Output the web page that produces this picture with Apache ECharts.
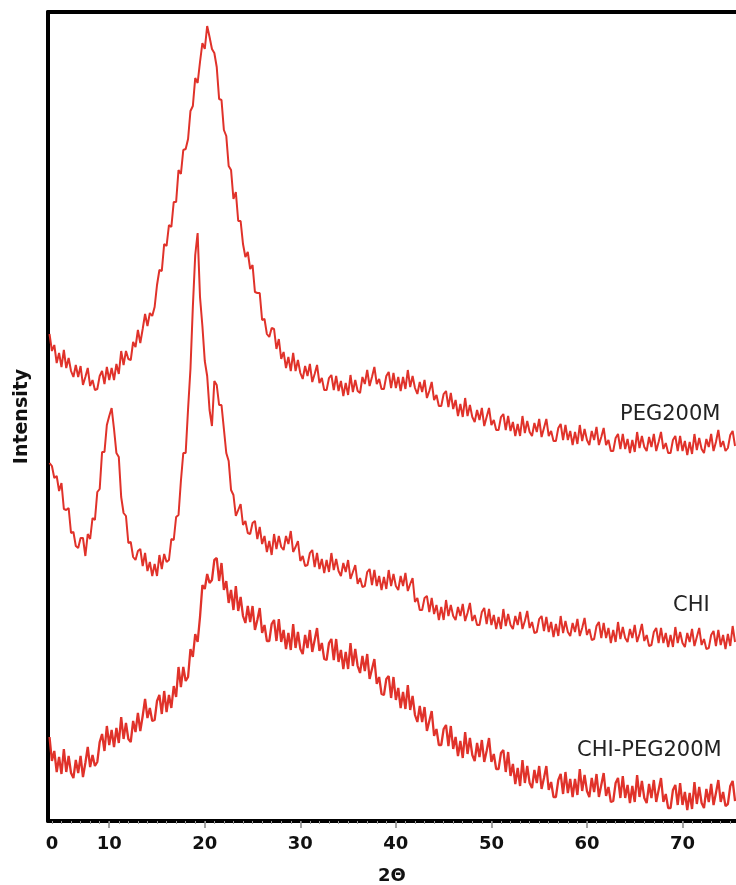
<!DOCTYPE html>
<html>
<head>
<meta charset="utf-8">
<title>XRD</title>
<script src="https://cdn.jsdelivr.net/npm/echarts@6/dist/echarts.min.js"></script>
<style>
  html, body { margin: 0; padding: 0; background: #fff; }
  #xrd { width: 736px; height: 885px; }
</style>
</head>
<body>
<div id="xrd"></div>
<script>
// scan grid: 2θ from 3.75 in 0.25° steps
const START = 3.75
const STEP = 0.25

// intensities (a.u.), already offset so the three patterns stack
const peg200m = [
  487, 470, 476, 458, 468, 454, 471, 453, 463, 450, 444, 456, 444, 455, 436, 444,
  453, 435, 441, 431, 432, 445, 450, 437, 454, 441, 453, 441, 457, 447, 470, 456,
  470, 462, 461, 479, 474, 491, 478, 492, 507, 495, 508, 505, 514, 536, 551, 550,
  577, 575, 596, 594, 619, 619, 651, 647, 671, 672, 682, 710, 715, 743, 738, 759,
  778, 772, 795, 784, 772, 768, 754, 722, 721, 691, 685, 655, 651, 622, 629, 600,
  600, 577, 564, 569, 552, 556, 529, 528, 528, 501, 502, 487, 484, 493, 492, 472,
  482, 462, 469, 453, 464, 450, 468, 450, 461, 448, 442, 455, 445, 457, 439, 447,
  456, 438, 443, 431, 431, 443, 446, 431, 445, 430, 440, 425, 438, 426, 446, 429,
  441, 430, 428, 444, 437, 451, 435, 444, 454, 437, 442, 432, 432, 445, 449, 433,
  448, 433, 444, 430, 444, 432, 451, 434, 445, 433, 427, 439, 429, 441, 423, 430,
  439, 421, 426, 415, 415, 427, 430, 414, 428, 412, 421, 405, 417, 404, 423, 405,
  416, 404, 399, 411, 401, 413, 395, 404, 413, 396, 401, 391, 391, 404, 407, 391,
  405, 390, 399, 385, 397, 385, 405, 388, 400, 389, 385, 398, 389, 402, 384, 393,
  402, 385, 390, 380, 380, 393, 397, 381, 396, 381, 390, 376, 389, 377, 396, 380,
  392, 381, 376, 390, 381, 394, 376, 384, 393, 376, 381, 370, 370, 383, 387, 372,
  387, 372, 382, 368, 381, 369, 389, 373, 385, 374, 370, 384, 374, 387, 370, 379,
  389, 372, 378, 368, 368, 381, 385, 370, 385, 370, 380, 366, 379, 367, 387, 371,
  383, 372, 368, 382, 374, 387, 370, 379, 391, 374, 380, 370, 373, 386, 390, 375
]

const chi = [
  358, 355, 343, 345, 330, 338, 312, 311, 313, 288, 289, 275, 273, 283, 283, 265,
  287, 282, 303, 301, 329, 332, 369, 369, 396, 405, 413, 392, 368, 364, 324, 308,
  305, 278, 279, 264, 261, 270, 272, 255, 268, 250, 259, 245, 257, 245, 266, 252,
  267, 259, 261, 282, 281, 304, 306, 340, 368, 368, 412, 452, 514, 566, 588, 524,
  495, 460, 445, 411, 395, 440, 436, 416, 416, 392, 368, 360, 331, 326, 305, 311,
  317, 296, 300, 288, 287, 298, 300, 282, 294, 277, 285, 269, 280, 266, 287, 272,
  285, 274, 271, 285, 277, 290, 269, 274, 280, 260, 265, 255, 256, 268, 271, 254,
  268, 252, 262, 248, 261, 249, 268, 251, 262, 250, 245, 258, 249, 261, 242, 249,
  256, 237, 243, 234, 235, 249, 252, 236, 251, 235, 245, 231, 244, 232, 251, 235,
  247, 235, 231, 245, 235, 248, 230, 237, 243, 219, 223, 211, 211, 223, 225, 209,
  223, 207, 216, 201, 214, 201, 221, 205, 216, 205, 201, 214, 205, 217, 200, 208,
  218, 200, 206, 196, 196, 209, 213, 197, 212, 196, 206, 192, 204, 192, 212, 195,
  207, 196, 192, 205, 196, 209, 192, 200, 210, 193, 199, 188, 189, 202, 205, 190,
  204, 189, 199, 184, 197, 185, 205, 188, 200, 189, 185, 198, 189, 202, 185, 193,
  203, 186, 192, 181, 182, 195, 199, 183, 198, 183, 193, 178, 191, 179, 199, 182,
  194, 183, 179, 192, 183, 196, 179, 187, 197, 180, 186, 175, 176, 189, 193, 178,
  193, 178, 188, 174, 186, 174, 194, 178, 189, 178, 174, 188, 179, 192, 175, 184,
  193, 176, 182, 172, 173, 186, 190, 175, 191, 176, 186, 172, 187, 175, 195, 179
]

const chiPeg200m = [
  84, 60, 70, 49, 64, 47, 72, 49, 65, 48, 43, 61, 48, 65, 44, 58,
  74, 54, 66, 55, 59, 79, 87, 70, 95, 76, 91, 74, 93, 78, 104, 82,
  98, 82, 79, 100, 89, 108, 90, 105, 122, 103, 113, 100, 101, 120, 126, 107,
  130, 109, 126, 113, 135, 124, 154, 134, 154, 140, 144, 172, 164, 187, 179, 204,
  236, 232, 247, 238, 241, 261, 263, 240, 258, 231, 240, 218, 231, 211, 235, 210,
  224, 205, 198, 215, 199, 215, 191, 201, 213, 188, 196, 180, 180, 197, 201, 180,
  202, 179, 191, 172, 188, 171, 197, 173, 189, 172, 167, 186, 173, 191, 169, 181,
  193, 170, 178, 162, 161, 178, 182, 161, 182, 159, 171, 152, 169, 152, 178, 155,
  172, 155, 148, 165, 150, 167, 142, 152, 162, 137, 144, 127, 126, 142, 145, 123,
  144, 121, 133, 113, 129, 112, 136, 111, 125, 106, 99, 115, 99, 114, 90, 100,
  110, 85, 92, 76, 76, 92, 96, 75, 95, 72, 84, 65, 80, 63, 89, 67,
  83, 66, 60, 78, 64, 81, 59, 70, 83, 59, 67, 52, 52, 68, 71, 49,
  69, 45, 57, 37, 53, 35, 61, 38, 55, 38, 33, 51, 38, 55, 32, 43,
  55, 31, 39, 24, 24, 41, 47, 27, 49, 28, 42, 24, 42, 26, 52, 30,
  46, 30, 24, 43, 29, 47, 24, 36, 48, 25, 34, 19, 20, 38, 43, 23,
  45, 23, 36, 18, 35, 19, 46, 24, 40, 23, 18, 37, 23, 41, 19, 31,
  43, 19, 27, 13, 13, 31, 36, 16, 38, 16, 29, 11, 28, 12, 39, 17,
  34, 18, 13, 32, 19, 37, 16, 28, 41, 19, 29, 15, 17, 35, 40, 20
]

const seriesNames = ['PEG200M', 'CHI', 'CHI-PEG200M']
const xTickValues = [4, 10, 20, 30, 40, 50, 60, 70]
const xTickLabels = ['0', '10', '20', '30', '40', '50', '60', '70']
const xMinorTicks = []
for (let v = 4; v <= 75; v++) xMinorTicks.push(v)

const X_MIN = 3.59
const X_MAX = 75.6
const RED = '#e0322a'

function toPairs(values) {
  return values.map((v, i) => [START + i * STEP, v])
}

const chart = echarts.init(document.getElementById('xrd'))

const lineSeries = [peg200m, chi, chiPeg200m].map((values, idx) => ({
  name: seriesNames[idx],
  type: 'line',
  xAxisIndex: 0,
  data: toPairs(values),
  showSymbol: false,
  clip: true,
  lineStyle: { color: RED, width: idx === 2 ? 2.3 : 2 },
  emphasis: { disabled: true },
  animation: false
}))

chart.setOption({
  backgroundColor: '#fff',
  animation: false,
  grid: { left: 48, right: 0, top: 12, bottom: 64, containLabel: false, outerBoundsMode: 'none' },
  xAxis: [
    {
      type: 'value',
      min: X_MIN,
      max: X_MAX,
      position: 'bottom',
      name: '2Θ',
      nameLocation: 'middle',
      nameGap: 46,
      nameTextStyle: { fontFamily: 'DejaVu Sans', fontWeight: 'bold', fontSize: 18, color: '#111' },
      axisLine: { show: true, onZero: false, lineStyle: { color: '#000', width: 4 } },
      axisTick: {
        show: true,
        length: 7,
        customValues: xTickValues.slice(1),
        lineStyle: { color: '#888', width: 1.5 }
      },
      axisLabel: {
        show: true,
        margin: 14,
        customValues: xTickValues,
        formatter: (v) => {
          const i = xTickValues.indexOf(v)
          return i >= 0 ? xTickLabels[i] : ''
        },
        fontFamily: 'DejaVu Sans',
        fontWeight: 'bold',
        fontSize: 18,
        color: '#111'
      },
      splitLine: { show: false }
    },
    {
      // minor ticks, one per degree
      type: 'value',
      min: X_MIN,
      max: X_MAX,
      position: 'bottom',
      axisLine: { show: false, onZero: false },
      axisTick: {
        show: true,
        length: 3,
        customValues: xMinorTicks,
        lineStyle: { color: '#999', width: 1 }
      },
      axisLabel: { show: false },
      splitLine: { show: false }
    },
    {
      // top frame line
      type: 'value',
      min: X_MIN,
      max: X_MAX,
      position: 'top',
      axisLine: { show: true, onZero: false, lineStyle: { color: '#000', width: 4 } },
      axisTick: { show: false },
      axisLabel: { show: false },
      splitLine: { show: false }
    }
  ],
  yAxis: {
    type: 'value',
    min: 0,
    max: 809,
    name: 'Intensity',
    nameLocation: 'middle',
    nameGap: 16,
    nameRotate: 90,
    nameTextStyle: { fontFamily: 'DejaVu Sans', fontWeight: 'bold', fontSize: 19, color: '#111' },
    axisLine: { show: true, onZero: false, lineStyle: { color: '#000', width: 4 } },
    axisTick: { show: false },
    axisLabel: { show: false },
    splitLine: { show: false }
  },
  graphic: [
    { type: 'text', left: 620, top: 404, style: { text: seriesNames[0], fontFamily: 'DejaVu Sans', fontSize: 21, fill: '#222' } },
    { type: 'text', left: 673, top: 595, style: { text: seriesNames[1], fontFamily: 'DejaVu Sans', fontSize: 21, fill: '#222' } },
    { type: 'text', left: 577, top: 740, style: { text: seriesNames[2], fontFamily: 'DejaVu Sans', fontSize: 21, fill: '#222' } }
  ],
  series: lineSeries
})
</script>
</body>
</html>
